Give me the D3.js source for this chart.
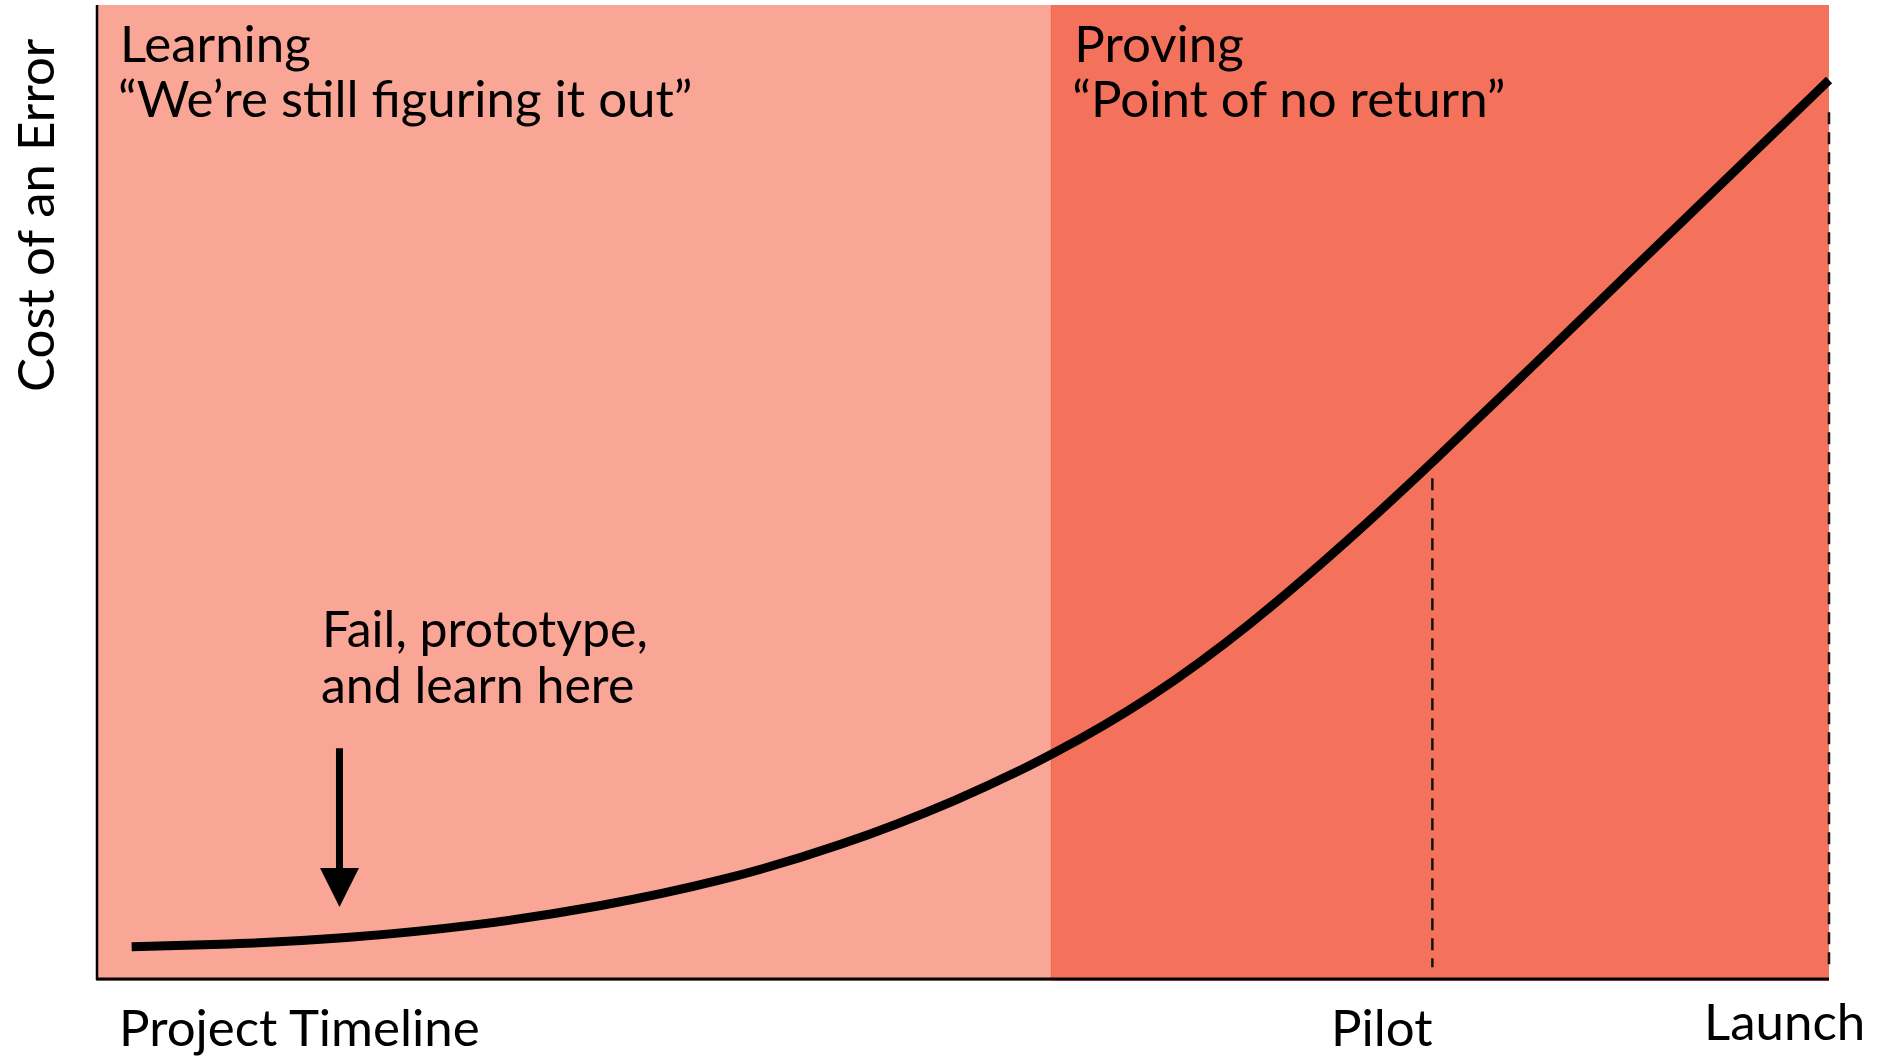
<!DOCTYPE html>
<html>
<head>
<meta charset="utf-8">
<script src="https://cdn.jsdelivr.net/npm/d3@7"></script>
<style>
  html, body { margin: 0; padding: 0; background: #fff; }
  text { font-family: Lato, "Open Sans", sans-serif; fill: #000; }
</style>
</head>
<body>
<svg id="chart" width="1880" height="1058"></svg>
<script>
// timeline (0-100) vs cost of an error (0-100)
const curveX = [2.0, 8.3, 14.0, 22.1, 29.0, 36.0, 42.9, 49.8, 55.1, 60.8, 66.6, 72.3, 77.1, 82.7, 88.5, 94.3, 100];
const curveY = [3.3, 3.6, 4.1, 5.5, 7.4, 10.0, 13.6, 18.4, 22.9, 28.7, 36.3, 45.1, 53.0, 62.6, 72.6, 82.5, 92.3];

const phases = ["Learning", "Proving"];
const phaseStart = [0, 55.1];
const phaseEnd = [55.1, 100];
const phaseQuotes = ["\u201cWe\u2019re still figuring it out\u201d", "\u201cPoint of no return\u201d"];
const phaseColors = ["#f9a696", "#f4725b"];

const milestones = ["Pilot", "Launch"];
const milestoneX = [77.1, 100];
const milestoneTop = [51.4, 89];

const svg = d3.select("#chart");
const margin = { left: 97, right: 51, top: 5, bottom: 79 };
const W = 1880, H = 1058;

const x = d3.scaleLinear().domain([0, 100]).range([margin.left, W - margin.right]);
const y = d3.scaleLinear().domain([0, 100]).range([H - margin.bottom, margin.top]);

// phase backgrounds
svg.selectAll("rect.phase")
  .data(phases)
  .join("rect")
  .attr("class", "phase")
  .attr("x", (d, i) => x(phaseStart[i]))
  .attr("y", y(100))
  .attr("width", (d, i) => x(phaseEnd[i]) - x(phaseStart[i]))
  .attr("height", y(0) - y(100) + 2)
  .attr("fill", (d, i) => phaseColors[i]);

// faint edge between phases
svg.append("line")
  .attr("x1", x(phaseStart[1])).attr("x2", x(phaseStart[1]))
  .attr("y1", y(100)).attr("y2", y(0))
  .attr("stroke", "#f0604a")
  .attr("stroke-width", 1);

// phase titles
phases.forEach((p, i) => {
  const t = svg.append("text")
    .attr("y", 62)
    .attr("font-size", 51);
  t.append("tspan").attr("x", x(phaseStart[i]) + 23).text(p);
  t.append("tspan").attr("x", x(phaseStart[i]) + 21).attr("dy", 55).text(phaseQuotes[i]);
});

// milestone dashed lines
svg.selectAll("line.milestone")
  .data(milestones)
  .join("line")
  .attr("class", "milestone")
  .attr("x1", (d, i) => x(milestoneX[i]))
  .attr("x2", (d, i) => x(milestoneX[i]))
  .attr("y1", (d, i) => y(milestoneTop[i]))
  .attr("y2", y(1.2))
  .attr("stroke", "#111")
  .attr("stroke-width", 2.5)
  .attr("stroke-dasharray", "12,8");

// cost curve
const line = d3.line()
  .x(d => x(d[0]))
  .y(d => y(d[1]))
  .curve(d3.curveBasis);

svg.append("path")
  .attr("d", line(d3.zip(curveX, curveY)))
  .attr("fill", "none")
  .attr("stroke", "#000")
  .attr("stroke-width", 9)
  .attr("stroke-linecap", "butt");

// axes (left and bottom only)
svg.append("line")
  .attr("x1", x(0)).attr("x2", x(0))
  .attr("y1", y(100)).attr("y2", y(0) + 1)
  .attr("stroke", "#000").attr("stroke-width", 2.5);
svg.append("line")
  .attr("x1", x(0) - 1).attr("x2", x(100))
  .attr("y1", y(0)).attr("y2", y(0))
  .attr("stroke", "#000").attr("stroke-width", 3);

// annotation arrow
const arrowX = 14.0;
svg.append("line")
  .attr("x1", x(arrowX)).attr("x2", x(arrowX))
  .attr("y1", y(23.7)).attr("y2", y(10))
  .attr("stroke", "#000").attr("stroke-width", 7);
svg.append("path")
  .attr("d", `M${x(arrowX) - 19.5},${y(11.4)}L${x(arrowX) + 19.5},${y(11.4)}L${x(arrowX)},${y(7.4)}Z`)
  .attr("fill", "#000");

const note = svg.append("text").attr("font-size", 50);
note.append("tspan").attr("x", 322).attr("y", 647).text("Fail, prototype,");
note.append("tspan").attr("x", 321).attr("y", 703).text("and learn here");

// axis labels
svg.append("text")
  .attr("x", 119).attr("y", 1046)
  .attr("font-size", 51)
  .text("Project Timeline");

svg.append("text")
  .attr("transform", "translate(54,392) rotate(-90)")
  .attr("font-size", 51)
  .text("Cost of an Error");

svg.append("text")
  .attr("x", 1331).attr("y", 1046)
  .attr("font-size", 51)
  .text(milestones[0]);

svg.append("text")
  .attr("x", 1704).attr("y", 1040)
  .attr("font-size", 51)
  .text(milestones[1]);
</script>
</body>
</html>
